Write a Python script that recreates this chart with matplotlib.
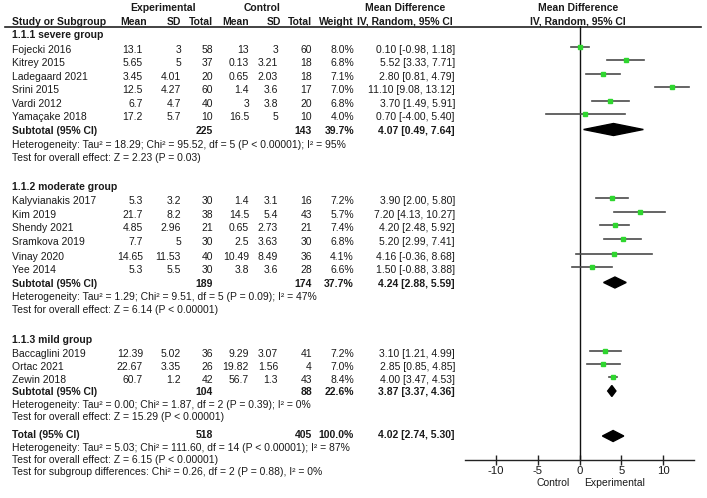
import matplotlib
matplotlib.use("Agg")
import matplotlib.pyplot as plt
from matplotlib.patches import Polygon

plt.rcParams['font.family'] = ['Liberation Sans', 'DejaVu Sans']
FS = 7.5
TXT = '#1a1a1a'

# ---- data ----
groups = ['1.1.1 severe group', '1.1.2 moderate group', '1.1.3 mild group']
studies = [
    ['Fojecki 2016', 'Kitrey 2015', 'Ladegaard 2021', 'Srini 2015', 'Vardi 2012', 'Yamaçake 2018'],
    ['Kalyvianakis 2017', 'Kim 2019', 'Shendy 2021', 'Sramkova 2019', 'Vinay 2020', 'Yee 2014'],
    ['Baccaglini 2019', 'Ortac 2021', 'Zewin 2018'],
]
exp_mean = [['13.1', '5.65', '3.45', '12.5', '6.7', '17.2'],
            ['5.3', '21.7', '4.85', '7.7', '14.65', '5.3'],
            ['12.39', '22.67', '60.7']]
exp_sd = [['3', '5', '4.01', '4.27', '4.7', '5.7'],
          ['3.2', '8.2', '2.96', '5', '11.53', '5.5'],
          ['5.02', '3.35', '1.2']]
exp_n = [[58, 37, 20, 60, 40, 10], [30, 38, 21, 30, 40, 30], [36, 26, 42]]
ctl_mean = [['13', '0.13', '0.65', '1.4', '3', '16.5'],
            ['1.4', '14.5', '0.65', '2.5', '10.49', '3.8'],
            ['9.29', '19.82', '56.7']]
ctl_sd = [['3', '3.21', '2.03', '3.6', '3.8', '5'],
          ['3.1', '5.4', '2.73', '3.63', '8.49', '3.6'],
          ['3.07', '1.56', '1.3']]
ctl_n = [[60, 18, 18, 17, 20, 10], [16, 43, 21, 30, 36, 28], [41, 4, 43]]
weight = [[8.0, 6.8, 7.1, 7.0, 6.8, 4.0], [7.2, 5.7, 7.4, 6.8, 4.1, 6.6], [7.2, 7.0, 8.4]]
md = [[0.10, 5.52, 2.80, 11.10, 3.70, 0.70], [3.90, 7.20, 4.20, 5.20, 4.16, 1.50], [3.10, 2.85, 4.00]]
lo = [[-0.98, 3.33, 0.81, 9.08, 1.49, -4.00], [2.00, 4.13, 2.48, 2.99, -0.36, -0.88], [1.21, 0.85, 3.47]]
hi = [[1.18, 7.71, 4.79, 13.12, 5.91, 5.40], [5.80, 10.27, 5.92, 7.41, 8.68, 3.88], [4.99, 4.85, 4.53]]

sub_exp_n = [225, 189, 104]
sub_ctl_n = [143, 174, 88]
sub_weight = [39.7, 37.7, 22.6]
sub_md = [4.07, 4.24, 3.87]
sub_lo = [0.49, 2.88, 3.37]
sub_hi = [7.64, 5.59, 4.36]
sub_het = ['Heterogeneity: Tau² = 18.29; Chi² = 95.52, df = 5 (P < 0.00001); I² = 95%',
           'Heterogeneity: Tau² = 1.29; Chi² = 9.51, df = 5 (P = 0.09); I² = 47%',
           'Heterogeneity: Tau² = 0.00; Chi² = 1.87, df = 2 (P = 0.39); I² = 0%']
sub_test = ['Test for overall effect: Z = 2.23 (P = 0.03)',
            'Test for overall effect: Z = 6.14 (P < 0.00001)',
            'Test for overall effect: Z = 15.29 (P < 0.00001)']

tot_exp_n, tot_ctl_n, tot_weight = 518, 405, 100.0
tot_md, tot_lo, tot_hi = 4.02, 2.74, 5.30
tot_lines = ['Heterogeneity: Tau² = 5.03; Chi² = 111.60, df = 14 (P < 0.00001); I² = 87%',
             'Test for overall effect: Z = 6.15 (P < 0.00001)',
             'Test for subgroup differences: Chi² = 0.26, df = 2 (P = 0.88), I² = 0%']

xticks = [-10, -5, 0, 5, 10]

# ---- layout (pixel rows) ----
group_y = [35, 187, 339.5]
study_y = [[49.5, 63, 76.5, 90, 103.5, 117],
           [201, 214.5, 228, 242, 256.5, 270],
           [353.5, 367, 380]]
sub_y = [[130.5, 145, 158], [283.5, 297, 310], [392, 405, 417]]
tot_y = [435, 448, 460, 472]

W, H = 707, 498
fig = plt.figure(figsize=(W / 100, H / 100), dpi=100)
ax = fig.add_axes([0, 0, 1, 1])
ax.set_xlim(0, W)
ax.set_ylim(H, 0)
ax.axis('off')

X_NAME = 12
cols = [143, 181, 213, 249, 278, 312, 354]
X_MD = 455


def t(x, y, s, ha='left', bold=False):
    ax.text(x, y, s, ha=ha, va='center', fontsize=FS, color=TXT,
            fontweight='bold' if bold else 'normal')


# headers
t(163, 8, 'Experimental', 'center', True)
t(262, 8, 'Control', 'center', True)
t(405, 8, 'Mean Difference', 'center', True)
t(578, 8, 'Mean Difference', 'center', True)
t(X_NAME, 21.5, 'Study or Subgroup', bold=True)
for x, h in zip([147, 181, 213, 249, 281, 312, 354], ['Mean', 'SD', 'Total', 'Mean', 'SD', 'Total', 'Weight']):
    t(x, 21.5, h, 'right', True)
t(405, 21.5, 'IV, Random, 95% CI', 'center', True)
t(578, 21.5, 'IV, Random, 95% CI', 'center', True)
ax.plot([5, 701], [26.5, 26.5], color='#222222', lw=1.2)

for g in range(3):
    t(X_NAME, group_y[g], groups[g], bold=True)
    for i, name in enumerate(studies[g]):
        y = study_y[g][i]
        t(X_NAME, y, name)
        vals = [exp_mean[g][i], exp_sd[g][i], str(exp_n[g][i]), ctl_mean[g][i],
                ctl_sd[g][i], str(ctl_n[g][i]), f'{weight[g][i]:.1f}%']
        for x, v in zip(cols, vals):
            t(x, y, v, 'right')
        t(X_MD, y, f'{md[g][i]:.2f} [{lo[g][i]:.2f}, {hi[g][i]:.2f}]', 'right')
    ys, yh, yt = sub_y[g]
    t(X_NAME, ys, 'Subtotal (95% CI)', bold=True)
    t(cols[2], ys, str(sub_exp_n[g]), 'right', True)
    t(cols[5], ys, str(sub_ctl_n[g]), 'right', True)
    t(cols[6], ys, f'{sub_weight[g]:.1f}%', 'right', True)
    t(X_MD, ys, f'{sub_md[g]:.2f} [{sub_lo[g]:.2f}, {sub_hi[g]:.2f}]', 'right', True)
    t(X_NAME, yh, sub_het[g])
    t(X_NAME, yt, sub_test[g])

t(X_NAME, tot_y[0], 'Total (95% CI)', bold=True)
t(cols[2], tot_y[0], str(tot_exp_n), 'right', True)
t(cols[5], tot_y[0], str(tot_ctl_n), 'right', True)
t(cols[6], tot_y[0], f'{tot_weight:.1f}%', 'right', True)
t(X_MD, tot_y[0], f'{tot_md:.2f} [{tot_lo:.2f}, {tot_hi:.2f}]', 'right', True)
for y, s in zip(tot_y[1:], tot_lines):
    t(X_NAME, y, s)

# ---- forest panel ----
AX_TOP, AX_BOT = 26.5, 460
fx = fig.add_axes([465 / W, (H - AX_BOT) / H, (694 - 465) / W, (AX_BOT - AX_TOP) / H])
fx.set_xlim(-13.7, 13.7)
fx.set_ylim(AX_BOT, AX_TOP)
fx.patch.set_alpha(0)
for s in ['top', 'left', 'right']:
    fx.spines[s].set_visible(False)
fx.spines['bottom'].set_linewidth(1.0)
fx.spines['bottom'].set_color('#222222')
fx.set_yticks([])
fx.set_xticks(xticks)
fx.set_xticklabels([str(v) for v in xticks], fontsize=FS + 0.7, color=TXT)
fx.tick_params(axis='x', direction='inout', length=7, width=1, color='#222222', pad=1)
fx.axvline(0, color='#111111', lw=1.0)

for g in range(3):
    for i in range(len(studies[g])):
        y = study_y[g][i] - 2.5
        fx.plot([lo[g][i], hi[g][i]], [y, y], color='#4a4a4a', lw=1.2)
        fx.plot(md[g][i], y, marker='s', ms=2.2 + weight[g][i] * 0.05,
                color='#2fd62f', mec='#2fd62f', ls='none')
    y = sub_y[g][0] - 1
    hh = 6 if g == 0 else 5.5
    fx.add_patch(Polygon([[sub_lo[g], y], [sub_md[g], y - hh], [sub_hi[g], y], [sub_md[g], y + hh]],
                         closed=True, color='black'))
y = tot_y[0] + 1
fx.add_patch(Polygon([[tot_lo, y], [tot_md, y - 5.5], [tot_hi, y], [tot_md, y + 5.5]],
                     closed=True, color='black'))

t(553, 483, 'Control', 'center')
t(615, 483, 'Experimental', 'center')

fig.savefig('out.png', dpi=100, facecolor='white')
